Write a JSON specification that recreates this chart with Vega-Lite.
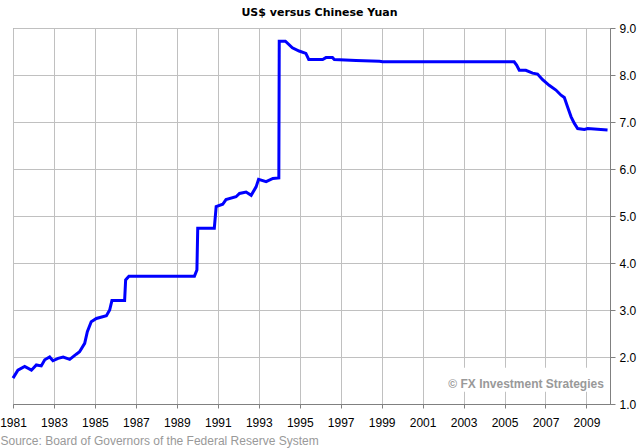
{
  "$schema": "https://vega.github.io/schema/vega-lite/v6.json",
  "width": 597,
  "height": 376,
  "autosize": {"type": "none"},
  "padding": {"left": 13, "top": 28, "right": 34, "bottom": 44},
  "background": "white",
  "title": {
    "text": "US$ versus Chinese Yuan",
    "font": "DejaVu Sans",
    "fontSize": 11,
    "fontWeight": "bold",
    "color": "#000000",
    "anchor": "middle",
    "baseline": "alphabetic",
    "dx": 8,
    "offset": -5
  },
  "config": {
    "view": {"stroke": "#808080", "strokeWidth": 1},
    "axis": {
      "labelFont": "Liberation Sans",
      "labelFontSize": 12,
      "labelColor": "#000000",
      "gridColor": "#c0c0c0",
      "gridOpacity": 1,
      "domainColor": "#808080",
      "tickColor": "#808080"
    }
  },
  "datasets": {
    "rate": [
      {"year": 1981.0, "rate": 1.55},
      {"year": 1981.24, "rate": 1.72},
      {"year": 1981.57, "rate": 1.80},
      {"year": 1981.9, "rate": 1.72},
      {"year": 1982.14, "rate": 1.83},
      {"year": 1982.38, "rate": 1.81},
      {"year": 1982.55, "rate": 1.94},
      {"year": 1982.79, "rate": 2.00},
      {"year": 1982.95, "rate": 1.92},
      {"year": 1983.2, "rate": 1.97},
      {"year": 1983.45, "rate": 2.00},
      {"year": 1983.77, "rate": 1.95},
      {"year": 1984.09, "rate": 2.06},
      {"year": 1984.25, "rate": 2.11},
      {"year": 1984.5, "rate": 2.29},
      {"year": 1984.63, "rate": 2.54},
      {"year": 1984.82, "rate": 2.75},
      {"year": 1985.07, "rate": 2.82},
      {"year": 1985.56, "rate": 2.88},
      {"year": 1985.72, "rate": 3.00},
      {"year": 1985.83, "rate": 3.20},
      {"year": 1986.45, "rate": 3.20},
      {"year": 1986.5, "rate": 3.64},
      {"year": 1986.66, "rate": 3.72},
      {"year": 1989.86, "rate": 3.72},
      {"year": 1989.98, "rate": 3.85},
      {"year": 1990.02, "rate": 4.74},
      {"year": 1990.83, "rate": 4.74},
      {"year": 1990.92, "rate": 5.20},
      {"year": 1991.24, "rate": 5.25},
      {"year": 1991.4, "rate": 5.35},
      {"year": 1991.89, "rate": 5.41},
      {"year": 1992.06, "rate": 5.48},
      {"year": 1992.38, "rate": 5.51},
      {"year": 1992.63, "rate": 5.44},
      {"year": 1992.87, "rate": 5.62},
      {"year": 1992.99, "rate": 5.78},
      {"year": 1993.36, "rate": 5.73},
      {"year": 1993.69, "rate": 5.80},
      {"year": 1993.98, "rate": 5.81},
      {"year": 1994.0, "rate": 8.72},
      {"year": 1994.3, "rate": 8.72},
      {"year": 1994.64, "rate": 8.58},
      {"year": 1994.97, "rate": 8.51},
      {"year": 1995.3, "rate": 8.46},
      {"year": 1995.44, "rate": 8.33},
      {"year": 1996.12, "rate": 8.33},
      {"year": 1996.28, "rate": 8.37},
      {"year": 1996.6, "rate": 8.37},
      {"year": 1996.69, "rate": 8.33},
      {"year": 1997.75, "rate": 8.31},
      {"year": 1998.89, "rate": 8.29},
      {"year": 1999.05, "rate": 8.28},
      {"year": 2005.47, "rate": 8.28},
      {"year": 2005.59, "rate": 8.21},
      {"year": 2005.72, "rate": 8.10},
      {"year": 2006.04, "rate": 8.10},
      {"year": 2006.37, "rate": 8.04},
      {"year": 2006.61, "rate": 8.02},
      {"year": 2006.86, "rate": 7.90},
      {"year": 2007.18, "rate": 7.78},
      {"year": 2007.51, "rate": 7.68},
      {"year": 2007.76, "rate": 7.57},
      {"year": 2007.92, "rate": 7.52},
      {"year": 2008.08, "rate": 7.32},
      {"year": 2008.25, "rate": 7.11},
      {"year": 2008.41, "rate": 6.97},
      {"year": 2008.57, "rate": 6.86},
      {"year": 2008.9, "rate": 6.84},
      {"year": 2009.06, "rate": 6.86},
      {"year": 2010.03, "rate": 6.83}
    ],
    "note": [
      {"x1": 2001.45, "x2": 2010.1, "y1": 1.26, "y2": 1.77, "xt": 2009.85, "yt": 1.43, "label": "© FX Investment Strategies"}
    ]
  },
  "layer": [
    {
      "data": {"name": "note"},
      "mark": {"type": "rect", "color": "white"},
      "encoding": {
        "x": {
          "field": "x1", "type": "quantitative",
          "scale": {"domain": [1981, 2010.15], "nice": false, "zero": false},
          "axis": {
            "values": [1981, 1983, 1985, 1987, 1989, 1991, 1993, 1995, 1997, 1999, 2001, 2003, 2005, 2007, 2009],
            "format": "d",
            "grid": true,
            "tickSize": 4,
            "labelPadding": 9,
            "labelFlush": false,
            "title": "Source: Board of Governors of the Federal Reserve System",
            "titleFont": "Liberation Sans",
            "titleFontSize": 12,
            "titleFontWeight": "normal",
            "titleColor": "#999999",
            "titleAnchor": "start",
            "titleAlign": "left",
            "titleX": -13,
            "titleY": 40,
            "titleBaseline": "alphabetic"
          }
        },
        "x2": {"field": "x2"},
        "y": {
          "field": "y1", "type": "quantitative",
          "scale": {"domain": [1, 9], "nice": false, "zero": false},
          "axis": {
            "orient": "right",
            "values": [1, 2, 3, 4, 5, 6, 7, 8, 9],
            "format": ".1f",
            "grid": true,
            "tickSize": 5,
            "labelPadding": 4,
            "labelFlush": false,
            "title": null
          }
        },
        "y2": {"field": "y2"}
      }
    },
    {
      "data": {"name": "rate"},
      "mark": {"type": "line", "color": "#0000ff", "strokeWidth": 3, "strokeJoin": "miter"},
      "encoding": {
        "x": {"field": "year", "type": "quantitative"},
        "y": {"field": "rate", "type": "quantitative"}
      }
    },
    {
      "data": {"name": "note"},
      "mark": {"type": "text", "align": "right", "baseline": "middle", "font": "Liberation Sans", "fontSize": 12, "fontWeight": "bold", "color": "#999999"},
      "encoding": {
        "x": {"field": "xt", "type": "quantitative"},
        "y": {"field": "yt", "type": "quantitative"},
        "text": {"field": "label"}
      }
    }
  ]
}
